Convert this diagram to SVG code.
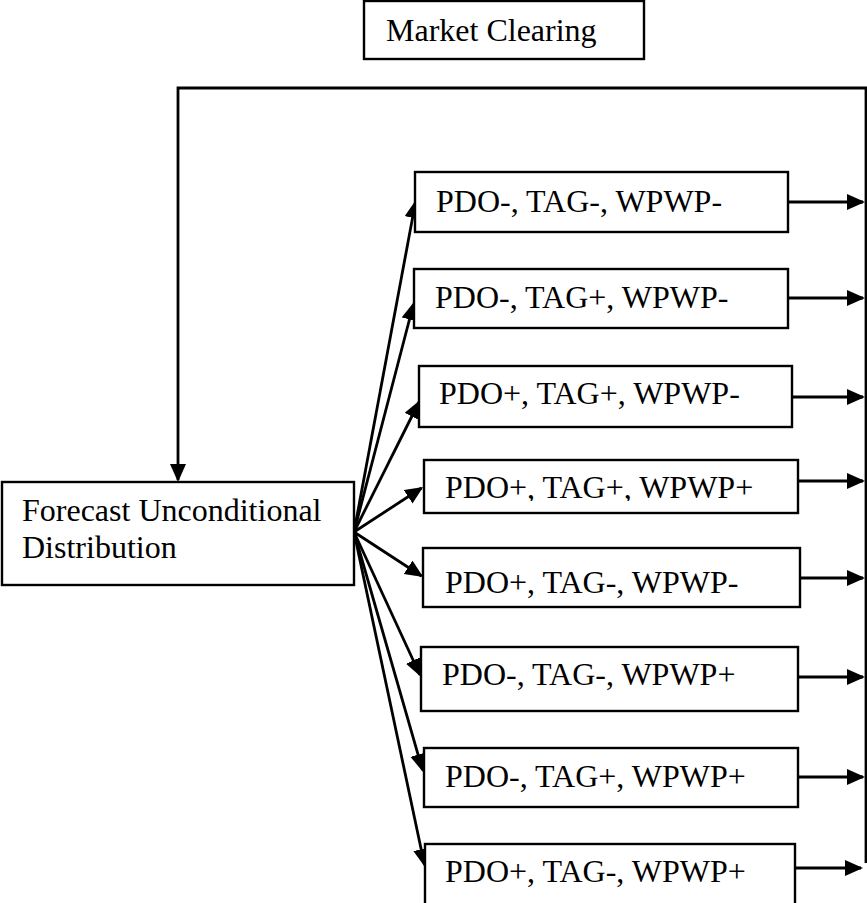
<svg xmlns="http://www.w3.org/2000/svg" width="867" height="903" viewBox="0 0 867 903">
<defs>
<style>
.box{fill:#fff;stroke:#000;stroke-width:2.4}
.t{font-family:"Liberation Serif","Times New Roman",serif;font-size:32px;fill:#000}
.c{fill:none;stroke:#000;stroke-width:2.8}
.a{marker-end:url(#ah)}
</style>
<marker id="ah" markerUnits="userSpaceOnUse" markerWidth="20" markerHeight="17" refX="16" refY="8" orient="auto">
<path d="M0,0 L18,8 L0,16 z" fill="#000"/>
</marker>
<clipPath id="clip4"><rect x="424" y="460" width="374" height="41"/></clipPath>
</defs>
<rect width="867" height="903" fill="#fff"/>
<g id="connectors">
<polyline class="c" points="866,863 866,88 178,88 178,480" marker-end="url(#ah)"/>
<line class="c a" x1="354" y1="532" x2="415.5" y2="202"/>
<line class="c a" x1="354" y1="532" x2="413.5" y2="304"/>
<line class="c a" x1="354" y1="532" x2="419" y2="402"/>
<line class="c a" x1="354" y1="532" x2="421.5" y2="488"/>
<line class="c a" x1="354" y1="532" x2="421.5" y2="576"/>
<line class="c a" x1="354" y1="532" x2="420" y2="675"/>
<line class="c a" x1="354" y1="532" x2="422.5" y2="770"/>
<line class="c a" x1="354" y1="532" x2="424.5" y2="865"/>
<line class="c a" x1="788" y1="202" x2="863" y2="202"/>
<line class="c a" x1="788" y1="298" x2="863" y2="298"/>
<line class="c a" x1="792" y1="397" x2="863" y2="397"/>
<line class="c a" x1="798" y1="481" x2="863" y2="481"/>
<line class="c a" x1="800" y1="578" x2="863" y2="578"/>
<line class="c a" x1="798" y1="677" x2="863" y2="677"/>
<line class="c a" x1="798" y1="777" x2="863" y2="777"/>
<line class="c a" x1="795" y1="868" x2="861" y2="868"/>
</g>
<g id="market-clearing">
<rect class="box" x="364" y="1" width="280" height="58"/>
<text class="t" x="386" y="41">Market Clearing</text>
</g>
<g id="forecast">
<rect class="box" x="2" y="482" width="352" height="103"/>
<text class="t" x="22" y="521">Forecast Unconditional</text>
<text class="t" x="22" y="558">Distribution</text>
</g>
<g id="s1">
<rect class="box" x="415" y="172" width="373" height="60"/>
<text class="t" x="436" y="212">PDO-, TAG-, WPWP-</text>
</g>
<g id="s2">
<rect class="box" x="414" y="269" width="374" height="59"/>
<text class="t" x="435" y="308">PDO-, TAG+, WPWP-</text>
</g>
<g id="s3">
<rect class="box" x="419" y="366" width="373" height="61"/>
<text class="t" x="439" y="404">PDO+, TAG+, WPWP-</text>
</g>
<g id="s4">
<rect class="box" x="424" y="460" width="374" height="53"/>
<text class="t" x="445" y="498" clip-path="url(#clip4)">PDO+, TAG+, WPWP+</text>
</g>
<g id="s5">
<rect class="box" x="423" y="548" width="377" height="59"/>
<text class="t" x="445" y="593">PDO+, TAG-, WPWP-</text>
</g>
<g id="s6">
<rect class="box" x="421" y="647" width="377" height="64"/>
<text class="t" x="442" y="685">PDO-, TAG-, WPWP+</text>
</g>
<g id="s7">
<rect class="box" x="424" y="748" width="374" height="59"/>
<text class="t" x="445" y="787">PDO-, TAG+, WPWP+</text>
</g>
<g id="s8">
<rect class="box" x="425" y="844" width="370" height="70"/>
<text class="t" x="445" y="882">PDO+, TAG-, WPWP+</text>
</g>
</svg>
